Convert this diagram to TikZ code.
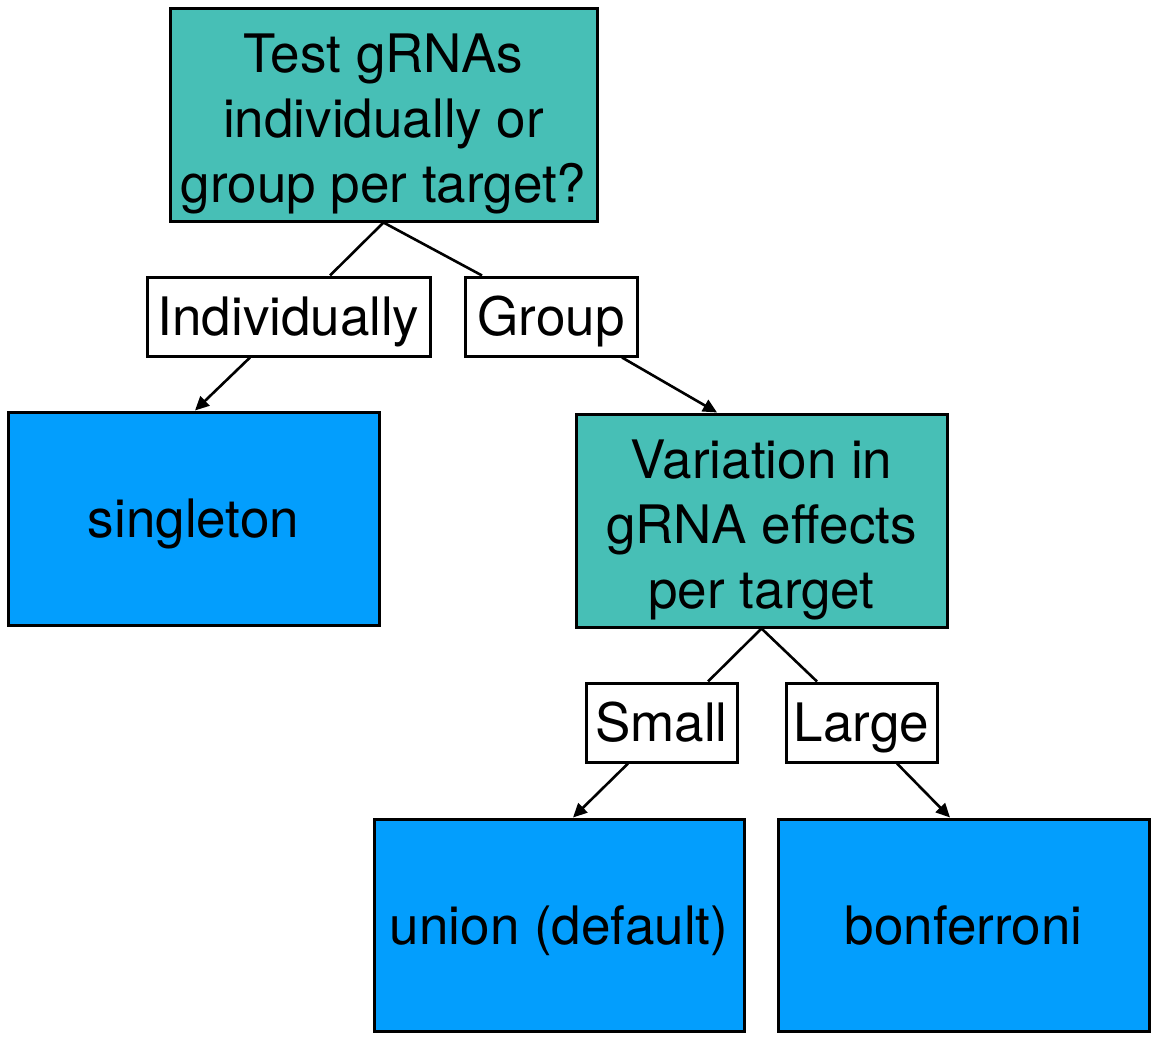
\documentclass[tikz,border=0pt]{standalone}
\usepackage{fontspec}
\setmainfont{TeX Gyre Heros}
\usetikzlibrary{arrows.meta,calc}
\definecolor{tealbox}{RGB}{71,191,182}
\definecolor{bluebox}{RGB}{3,158,253}
\tikzset{
  box/.style={draw=black, line width=3pt, inner sep=0pt, align=center,
    font=\fontsize{53}{65}\selectfont},
  one/.style={text height=38pt, text depth=0pt},
  three/.style={text height=175pt, text depth=0pt},
  qbox/.style={box, three, fill=tealbox},
  abox/.style={box, one, fill=bluebox},
  lbl/.style={box, one, fill=white},
  conn/.style={line width=2.6pt},
  arr/.style={conn, -{Triangle[length=14pt,width=13pt]}}
}
\begin{document}
\begin{tikzpicture}[x=1pt,y=-1pt]
\useasboundingbox (0,0) rectangle (1155,1046);
\node[qbox, minimum width=427pt, minimum height=212pt] (q1) at (383.5,115)
  {Test gRNAs\\individually or\\group per target?};
\node[lbl, minimum width=283pt, minimum height=79pt] (ind) at (288.5,316.5) {Individually};
\node[lbl, minimum width=172pt, minimum height=79pt] (grp) at (551,316.5) {Group};
\node[abox, minimum width=371pt, minimum height=213pt] (single) at (193.5,518.5) {singleton};
\node[qbox, minimum width=371pt, minimum height=213pt] (q2) at (761.5,520.5)
  {Variation in\\gRNA effects\\per target};
\node[lbl, minimum width=151pt, minimum height=79pt] (small) at (661.5,722.5) {Small};
\node[lbl, minimum width=151pt, minimum height=79pt] (large) at (861.5,722.5) {Large};
\node[abox, minimum width=370pt, minimum height=212pt] (union) at (559,925) {union (default)};
\node[abox, minimum width=371pt, minimum height=212pt] (bonf) at (963.5,925) {bonferroni};

\draw[conn] (q1.south) -- ([xshift=41.5pt]ind.north);
\draw[conn] (q1.south) -- ([xshift=-69pt]grp.north);
\draw[arr] ([xshift=-38.5pt]ind.south) -- ([xshift=1.5pt]single.north);
\draw[arr] ([xshift=71pt]grp.south) -- ([xshift=-44.5pt]q2.north);
\draw[conn] (q2.south) -- ([xshift=46.5pt]small.north);
\draw[conn] (q2.south) -- ([xshift=-44.5pt]large.north);
\draw[arr] ([xshift=-33.5pt]small.south) -- ([xshift=14pt]union.north);
\draw[arr] ([xshift=35.5pt]large.south) -- ([xshift=-13.5pt]bonf.north);
\end{tikzpicture}
\end{document}
